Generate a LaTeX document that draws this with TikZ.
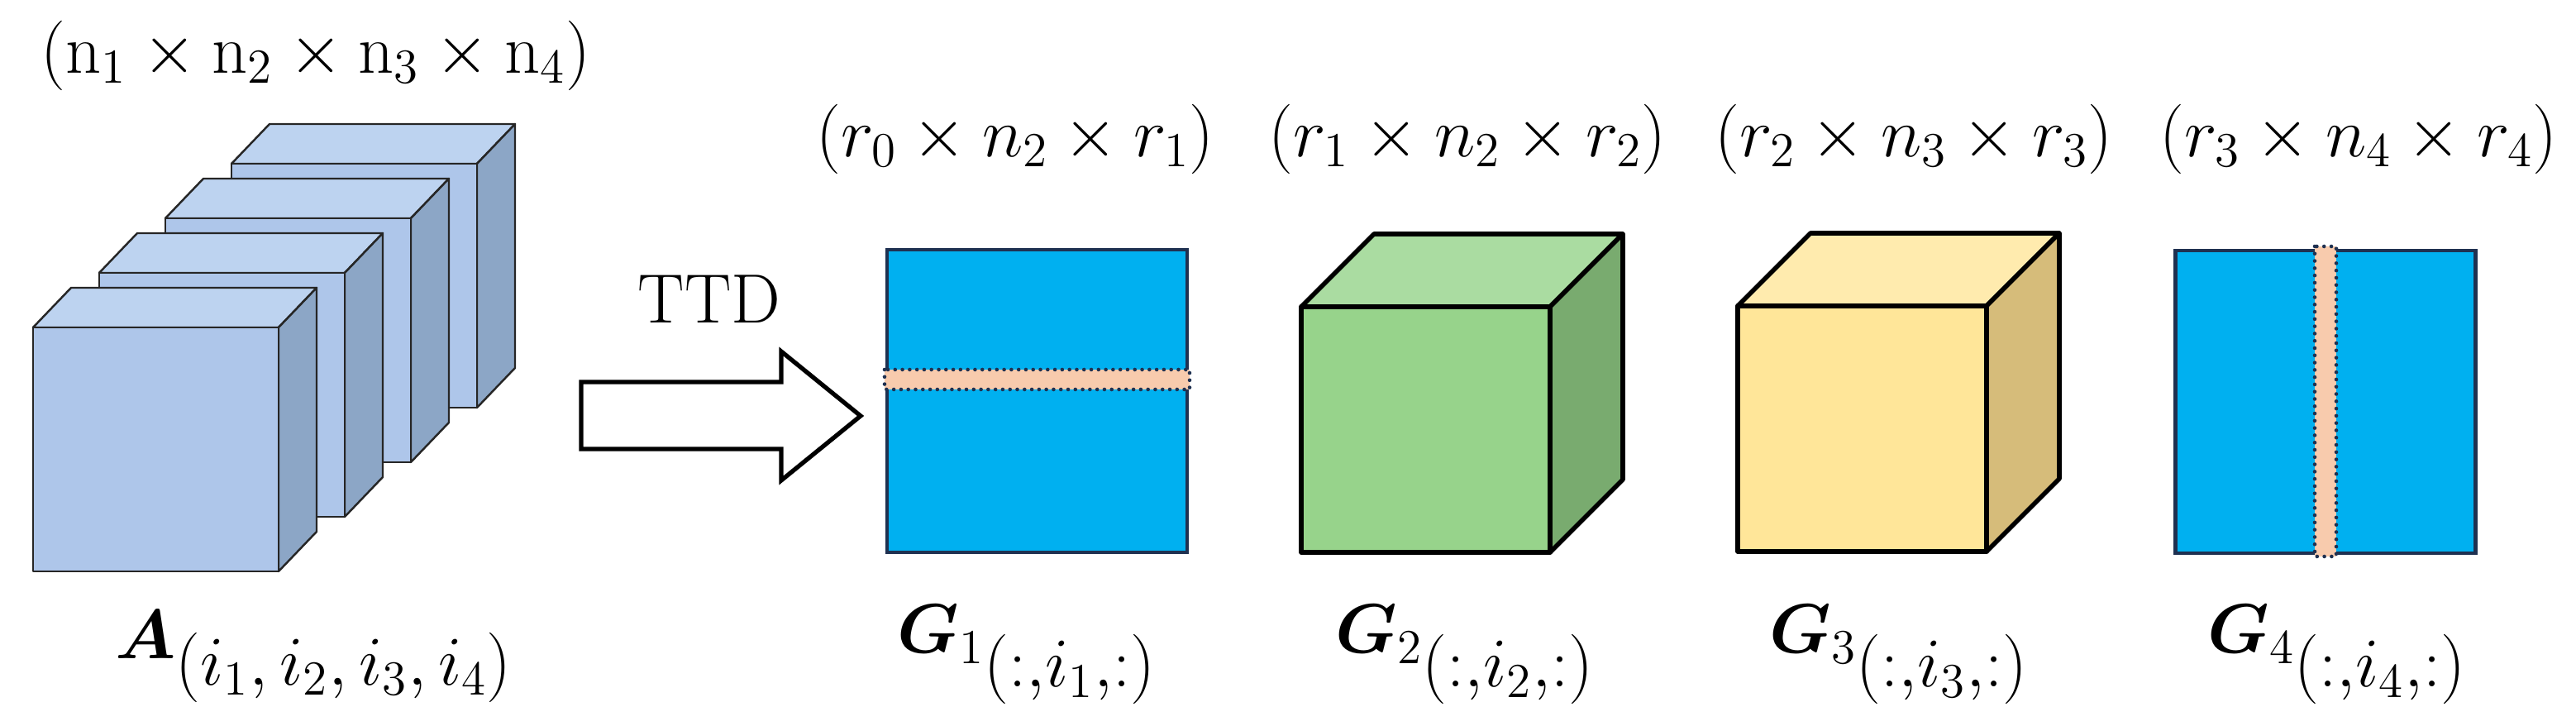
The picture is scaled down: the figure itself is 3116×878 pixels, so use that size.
\RequirePackage{fix-cm}
\documentclass[tikz,border=0pt]{standalone}
\usepackage{amsmath,bm}

\definecolor{slabfront}{HTML}{AEC6EA}
\definecolor{slabtop}{HTML}{BDD3F0}
\definecolor{slabside}{HTML}{8CA6C6}
\definecolor{greenfront}{HTML}{97D38B}
\definecolor{greentop}{HTML}{AADCA1}
\definecolor{greenside}{HTML}{79AB6F}
\definecolor{yellowfront}{HTML}{FFE699}
\definecolor{yellowtop}{HTML}{FFEBAE}
\definecolor{yellowside}{HTML}{D6BC7A}
\definecolor{coreblue}{HTML}{00B0F0}
\definecolor{navy}{HTML}{1F3151}
\definecolor{peach}{HTML}{F8CBAD}

% x, y, width, height, depth x, depth y, colour prefix
\newcommand{\prism}[7]{\filldraw[fill=#7top] (#1,#2) -- (#1+#5,#2-#6) -- (#1+#3+#5,#2-#6) -- (#1+#3,#2) -- cycle;
\filldraw[fill=#7side] (#1+#3,#2) -- (#1+#3+#5,#2-#6) -- (#1+#3+#5,#2+#4-#6) -- (#1+#3,#2+#4) -- cycle;
\filldraw[fill=#7front] (#1,#2) rectangle (#1+#3,#2+#4);}
\newcommand{\lowsub}[2]{\raisebox{-#1em}{$#2$}}

\tikzset{
  every node/.style={font=\fontsize{24}{29}\selectfont},
  slab/.style={draw=black!85, line width=0.7pt, line join=round},
  cube/.style={draw=black, line width=1.6pt, line join=round},
  matbox/.style={draw=navy, line width=1.3pt, fill=coreblue, minimum width=36.3mm, minimum height=36.6mm, inner sep=0pt},
  fibre/.style={draw=navy, fill=peach, line width=1.3pt, dash pattern=on 0pt off 2.5pt, line cap=round},
  blockarrow/.style={draw=black, line width=1.5pt, fill=white}
}

\begin{document}
\begin{tikzpicture}[x=0.1mm, y=-0.1mm]
  \useasboundingbox (0,0) rectangle (3116,878);

  % the tensor A, four slabs drawn from the back
  \foreach \i in {3,2,1,0}
    {\begin{scope}[slab]
      \prism{40+80*\i}{396-66*\i}{297}{295}{46}{48}{slab}
    \end{scope}}
  \node (dimA) at (382,67) {$(\mathrm{n}_1\times \mathrm{n}_2\times \mathrm{n}_3\times \mathrm{n}_4)$};
  \node[anchor=base west] (labA) at (127,797) {$\bm{A}\lowsub{.37}{(i_1,i_2,i_3,i_4)}$};

  % decomposition arrow
  \draw[blockarrow] (703,462) -- (945,462) -- (945,425) -- (1041,503) -- (945,581) -- (945,543) -- (703,543) -- cycle;
  \node (ttd) at (858,362) {TTD};

  % cores
  \node[matbox] (g1) at (1254.5,485) {};
  \draw[fibre] (1070,447) rectangle (1439,471);
  \begin{scope}[cube]
    \prism{1574}{371}{301}{297}{88}{88}{green}
    \prism{2102}{370}{301}{297}{88}{88}{yellow}
  \end{scope}
  \node[matbox] (g4) at (2813,486) {};
  \draw[fibre] (2800,298) rectangle (2826,673);

  \node (dim1) at (1228,168) {$(r_0\times n_2\times r_1)$};
  \node (dim2) at (1775,168) {$(r_1\times n_2\times r_2)$};
  \node (dim3) at (2315,168) {$(r_2\times n_3\times r_3)$};
  \node (dim4) at (2853,168) {$(r_3\times n_4\times r_4)$};

  \node[anchor=base west] (lab1) at (1073,790) {$\bm{G}_1\lowsub{.48}{(\mathord{:}{,}i_1{,}\mathord{:})}$};
  \node[anchor=base west] (lab2) at (1603,790) {$\bm{G}_2\lowsub{.48}{(\mathord{:}{,}i_2{,}\mathord{:})}$};
  \node[anchor=base west] (lab3) at (2128,790) {$\bm{G}_3\lowsub{.48}{(\mathord{:}{,}i_3{,}\mathord{:})}$};
  \node[anchor=base west] (lab4) at (2658,790) {$\bm{G}_4\lowsub{.48}{(\mathord{:}{,}i_4{,}\mathord{:})}$};
\end{tikzpicture}
\end{document}
